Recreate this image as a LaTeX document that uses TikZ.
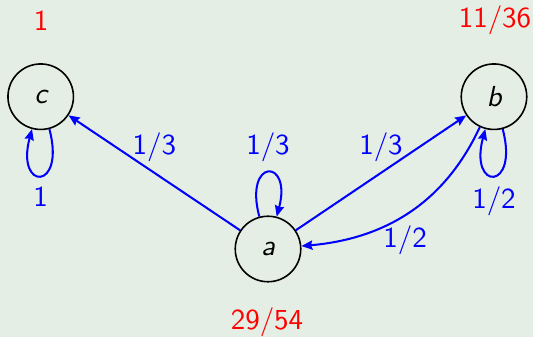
\documentclass[tikz,border=0pt]{standalone}
\usepackage{fontspec}
\usetikzlibrary{arrows.meta}
\definecolor{bg}{RGB}{229,238,229}
\begin{document}
\begin{tikzpicture}[x=0.345pt,y=0.345pt,font=\sffamily,
  state/.style={circle,draw=black,line width=0.55pt,minimum size=22.6pt,inner sep=0pt,font=\sffamily\itshape},
  edge/.style={draw=blue,line width=0.7pt,-{Stealth[length=3.8pt,width=3.2pt,inset=0.5pt]}},
  lbl/.style={text=blue},
  prob/.style={text=red}]
\fill[bg] (0,0) rectangle (533,337);
\useasboundingbox (0,0) rectangle (533,337);
\node[state] (c) at (40.7,240.3) {c};
\node[state] (b) at (494,240.3) {b};
\node[state] (a) at (268,88) {a};
\node[prob] (pc) at (41,316) {1};
\node[prob] (pb) at (495,317) {11/36};
\node[prob] (pa) at (267,15) {29/54};
\draw[edge] (a) -- node[midway,above,lbl] (lac) {1/3} (c);
\draw[edge] (a) -- node[midway,above,lbl] (lab) {1/3} (b);
\draw[edge] (b) to[out=245,in=5] node[pos=0.52,below,lbl] (lba) {1/2} (a);
\draw[edge] (a) to[out=105,in=75,looseness=9] node[above,lbl] (laa) {1/3} (a);
\draw[edge] (c) to[out=-75,in=-105,looseness=9.5] node[below,lbl] (lcc) {1} (c);
\draw[edge] (b) to[out=-75,in=-105,looseness=9.5] node[below,lbl] (lbb) {1/2} (b);
\end{tikzpicture}
\end{document}
